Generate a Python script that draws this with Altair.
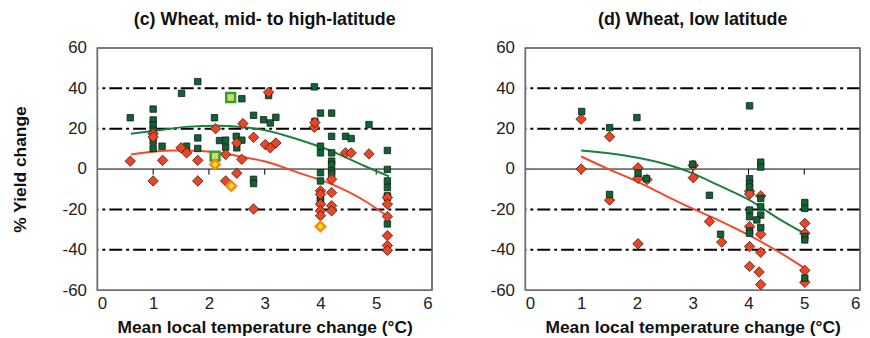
import altair as alt
import pandas as pd

FONT = "Liberation Sans"

# ---------------- Panel (c) Wheat, mid- to high-latitude ----------------
c_green_x = [0.59, 1.0, 1.0, 1.0, 1.0, 1.0, 1.0, 1.0, 1.16, 1.51, 1.6, 1.8, 1.8, 1.8,
             2.1, 2.19, 2.3, 2.3, 2.49, 2.5, 2.59, 2.59, 2.8, 2.8, 2.8, 2.98, 3.07,
             3.1, 3.2, 3.89, 3.9, 4.0, 4.0, 4.0, 4.0, 4.0, 4.0, 4.0, 4.2, 4.2, 4.2,
             4.2, 4.2, 4.2, 4.2, 4.45, 4.55, 4.87, 5.2, 5.2, 5.2, 5.2, 5.2, 5.2, 5.2]
c_green_y = [25.4, 29.7, 24.3, 21.8, 19.3, 16.1, 13.8, 10.2, 11.3, 37.5, 11.3, 43.3, 15.4, 10.2,
             25.4, 14.1, 14.3, 10.8, 16.2, 10.5, 14.3, 34.8, 26.6, -5.1, -7.2, 24.4, 36.4,
             22.8, 25.6, 40.7, 23.6, 27.7, 11.3, 8.0, -1.8, -5.9, -14.9, -15.7, 27.7, 16.2, 8.0,
             3.9, 2.3, -1.0, -2.3, 16.2, 15.1, 22.0, 9.2, -0.2, -5.9, -9.2, -13.3, -14.1, -27.2]

c_red_x = [0.59, 1.0, 1.0, 1.0, 1.17, 1.5, 1.6, 1.8, 1.8, 2.12, 2.3, 2.3, 2.5, 2.5,
           2.59, 2.61, 2.8, 2.8, 3.01, 3.07, 3.1, 3.2, 3.89, 3.9, 4.0, 4.0, 4.0, 4.0,
           4.0, 4.2, 4.2, 4.2, 4.2, 4.45, 4.55, 4.87, 5.2, 5.2, 5.2, 5.2, 5.2, 5.2]
c_red_y = [3.9, 17.5, 15.9, -5.9, 4.3, 10.5, 8.0, 4.3, -5.9, 20.0, 7.2, -5.9, 12.9, -2.1,
           4.8, 22.5, 15.7, -19.8, 12.1, 38.0, 10.5, 12.9, 20.7, 23.0, -10.8, -12.5, -17.4, -20.7,
           -23.1, -5.1, -11.7, -18.2, -20.7, 8.0, 8.0, 7.5, -14.1, -17.4, -23.5, -33.0, -37.9, -40.3]

c_light_x = [2.11, 2.39]
c_light_y = [6.4, 35.4]

c_yellow_x = [2.11, 2.4, 4.0]
c_yellow_y = [2.3, -8.4, -28.4]

c_gcurve_x = [0.6, 1.17, 1.64, 2.12, 2.59, 3.01, 3.6, 4.2, 4.79, 5.23]
c_gcurve_y = [17.5, 19.5, 21.0, 21.4, 20.8, 19.2, 14.6, 8.9, 1.5, -3.6]
c_rcurve_x = [0.6, 1.35, 1.76, 2.24, 2.65, 3.01, 3.6, 4.2, 4.79, 5.2]
c_rcurve_y = [7.2, 9.2, 9.0, 7.7, 5.8, 3.7, -1.8, -7.5, -15.7, -23.4]

# ---------------- Panel (d) Wheat, low latitude ----------------
d_green_x = [1.01, 1.51, 1.51, 2.0, 2.02, 2.17, 3.0, 3.3, 3.5, 4.02, 4.02, 4.02, 4.02,
             4.02, 4.02, 4.02, 4.02, 4.22, 4.22, 4.22, 4.22, 4.22, 4.15, 4.22, 5.01,
             5.01, 5.01, 5.01, 5.01]
d_green_y = [28.5, 20.5, -12.6, 25.5, -2.0, -4.8, 2.4, -13.0, -32.3, 31.3, -4.8, -7.2, -8.9,
             -20.3, -23.6, -30.7, -31.8, 3.4, 1.0, -14.6, -18.7, -22.8, -25.2, -29.0, -16.6,
             -19.5, -33.4, -35.1, -54.0]

d_red_x = [1.0, 1.0, 1.51, 1.51, 2.02, 2.02, 2.02, 2.18, 3.01, 3.01, 3.3, 3.52, 4.02,
           4.02, 4.02, 4.02, 4.02, 4.22, 4.22, 4.22, 4.19, 4.22, 5.01, 5.01, 5.01, 5.01]
d_red_y = [24.7, 0.0, 16.0, -15.4, 0.6, -4.6, -37.0, -5.2, 1.8, -4.3, -26.0, -36.2, -11.0,
           -12.4, -28.5, -38.4, -48.2, -13.3, -32.3, -41.2, -51.0, -57.2, -26.9, -31.8, -50.2, -56.1]

d_gcurve_x = [1.0, 1.78, 2.49, 2.99, 3.46, 4.05, 4.53, 5.0]
d_gcurve_y = [9.2, 6.7, 2.6, -2.0, -8.0, -15.9, -24.4, -31.8]
d_rcurve_x = [1.0, 1.48, 1.96, 2.49, 2.99, 3.46, 4.05, 4.53, 5.0]
d_rcurve_y = [6.2, 0.1, -5.6, -12.9, -19.5, -25.3, -33.4, -40.8, -49.0]

dash_levels = [40, 20, -20, -40]
frame_y = [-60, 60]
frame_x = [0, 6]
x_ticks = [0, 1, 2, 3, 4, 5, 6]
y_ticks = [-60, -40, -20, 0, 20, 40, 60]
inner_ticks = [1, 2, 3, 4, 5]

GREEN = "#0c6633"
RED = "#ea4526"
GCURVE = "#1c8040"
RCURVE = "#f2492a"
FRAME = "#707070"

W, H = 337, 244


def df(xs, ys):
    return pd.DataFrame({"x": xs, "y": ys})


def panel(title, gx, gy, rx, ry, gcx, gcy, rcx, rcy, lx=None, ly=None, yx=None, yy=None,
          show_ytitle=True, red_on_top=True):
    xs = alt.Scale(domain=[0, 6], nice=False, zero=False)
    ys = alt.Scale(domain=[-60, 60], nice=False, zero=False)
    xax = alt.Axis(values=x_ticks, ticks=False, domain=False, grid=False, labelFontSize=17,
                   labelPadding=5, labelExpr="'' + datum.value",
                   title="Mean local temperature change (°C)",
                   titleFontSize=17.5, titleFontWeight="bold", titlePadding=8,
                   labelFont=FONT, titleFont=FONT, labelColor="#222", titleColor="#111")
    yax = alt.Axis(values=y_ticks, ticks=False, domain=False, grid=False, labelFontSize=17,
                   labelPadding=11, labelExpr="'' + datum.value",
                   title="% Yield change" if show_ytitle else None,
                   titleFontSize=17.5, titleFontWeight="bold", titlePadding=33,
                   labelFont=FONT, titleFont=FONT, labelColor="#222", titleColor="#111")
    X = alt.X("x:Q", scale=xs, axis=xax)
    Y = alt.Y("y:Q", scale=ys, axis=yax)

    dashes = alt.Chart(pd.DataFrame({"y": dash_levels})).mark_rule(
        color="black", strokeWidth=2, strokeDash=[13, 4, 3, 4]).encode(y=Y)
    zero = alt.Chart(pd.DataFrame({"y": [0]})).mark_rule(
        color="black", strokeWidth=1).encode(y=Y)
    tk = alt.Chart(pd.DataFrame({"x": inner_ticks, "y": [0] * len(inner_ticks),
                                 "y2": [-2.8] * len(inner_ticks)})).mark_rule(
        color="black", strokeWidth=1).encode(x=X, y=Y, y2="y2:Q")
    hframe = alt.Chart(pd.DataFrame({"y": frame_y})).mark_rule(
        color=FRAME, strokeWidth=1.5).encode(y=Y)
    vframe = alt.Chart(pd.DataFrame({"x": frame_x})).mark_rule(
        color=FRAME, strokeWidth=1.5).encode(x=X)
    gcurve = alt.Chart(df(gcx, gcy)).mark_line(
        color=GCURVE, strokeWidth=2, interpolate="monotone").encode(x=X, y=Y)
    rcurve = alt.Chart(df(rcx, rcy)).mark_line(
        color=RCURVE, strokeWidth=2, interpolate="monotone").encode(x=X, y=Y)
    green = alt.Chart(df(gx, gy)).mark_point(
        shape="square", filled=True, fill=GREEN, stroke="#1b1b1b", strokeWidth=0.8,
        size=42, opacity=1).encode(x=X, y=Y)
    red = alt.Chart(df(rx, ry)).mark_point(
        shape="diamond", filled=True, fill=RED, stroke="#3a1a10", strokeWidth=0.8,
        size=110, opacity=1).encode(x=X, y=Y)
    layers = [dashes, zero, tk, hframe, vframe, gcurve, rcurve]
    layers += [green, red] if red_on_top else [red, green]
    if lx:
        layers.append(alt.Chart(df(lx, ly)).mark_point(
            shape="square", filled=True, fill="#c5df6a", stroke="#3d9a2e", strokeWidth=2.5,
            size=80, opacity=1).encode(x=X, y=Y))
    if yx:
        layers.append(alt.Chart(df(yx, yy)).mark_point(
            shape="diamond", filled=True, fill="#fff200", stroke="#f58a1f", strokeWidth=2.5,
            size=90, opacity=1).encode(x=X, y=Y))
    return alt.layer(*layers).properties(
        width=W, height=H,
        title=alt.TitleParams(title, fontSize=18, fontWeight="bold", font=FONT,
                              color="#111", offset=10))


left = panel("(c) Wheat, mid- to high-latitude", c_green_x, c_green_y, c_red_x, c_red_y,
             c_gcurve_x, c_gcurve_y, c_rcurve_x, c_rcurve_y,
             c_light_x, c_light_y, c_yellow_x, c_yellow_y, show_ytitle=True, red_on_top=True)
right = panel("(d) Wheat, low latitude", d_green_x, d_green_y, d_red_x, d_red_y,
              d_gcurve_x, d_gcurve_y, d_rcurve_x, d_rcurve_y, show_ytitle=False,
              red_on_top=False)

chart = alt.hconcat(left, right, spacing=55).properties(
    padding={"left": 2, "top": 1, "right": 0, "bottom": 0},
    background="white"
).configure_view(stroke="#707070", strokeWidth=1.5)

chart.save("out.html", embed_options={"renderer": "svg", "actions": False})
